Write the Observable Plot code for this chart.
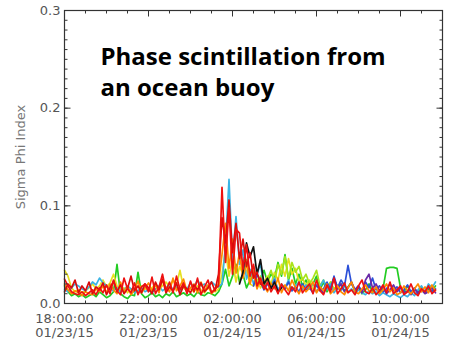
<!DOCTYPE html>
<html><head><meta charset="utf-8">
<script src="https://cdn.jsdelivr.net/npm/d3@7"></script>
<script src="https://cdn.jsdelivr.net/npm/@observablehq/plot@0.6"></script>
<style>body{margin:0;background:#fff}#chart{width:449px;height:339px}</style>
</head><body><div id="chart"></div>
<script>
// sampling grid: every 10 minutes from 18:00 UT 01/23/15
const startTime = "2015-01-23T18:00:00Z";
const stepMinutes = 10;

const red = [.025,.018,.012,.010,.009,.012,.008,.011,.014,.009,.016,.011,
.019,.010,.024,.013,.009,.026,.015,.011,.021,.009,.017,.020,
.012,.027,.010,.017,.030,.013,.022,.011,.028,.014,.021,.010,
.023,.012,.026,.009,.017,.024,.011,.015,.018,
.119,.042,.098,.030,.076,.072,.035,.060,.028,.040,.018,.026,
.015,.022,.012,.018,.010,.020,.014,.009,.017,.012,.022,.011,
.016,.020,.010,.024,.013,.009,.019,.012,.026,.010,.015,.021,
.011,.014,.009,.018,.024,.012,.010,.016,.009,.013,.019,.011,
.022,.010,.014,.018,.009,.012,.020,.011,.008,.015,.012,.018,
.010,.014];
const darkRed = [.012,.020,.016,.024,.011,.018,.013,.022,.010,.017,.014,.021,
.009,.016,.023,.012,.019,.010,.015,.028,.013,.018,.011,.020,
.016,.010,.022,.014,.025,.011,.017,.013,.021,.009,.018,.015,
.011,.019,.014,.021,.012,.016,.022,.013,.030,
.088,.062,.106,.052,.082,.046,.066,.038,.052,.026,.032,.020,
.018,.014];
const orange = [.020,.014,.010,.013,.011,.008,.012,.010,.009,.015,.012,.018,
.011,.020,.014,.010,.022,.012,.018,.009,.014,.023,.011,.016,
.021,.013,.019,.011,.024,.016,.012,.026,.013,.018,.025,.012,
.016,.020,.011,.022,.013,.019,.010,.014,.020,
.050,.082,.036,.066,.031,.052,.026,.041,.020,.032,.015,.024,
.018,.012,.021,.015,.026,.011,.019,.013,.024,.016,.010,.018,
.012,.016,.022,.011,.017,.013,.020,.010,.014,.018,.012,.009,
.016,.022,.012,.010,.015,.019,.013,.011,.017,.010,.014,.020,
.012,.016,.009,.011,.018,.013,.010,.015,.020,.012,.017,.011,
.019,.013];
const yellow = [.034,.028,.016,.012,.014,.011,.013,.016,.020,.015,.018,.024,
.017,.021,.030,.018,.013,.016,.011,.015,.014,.012,.018,.015,
.013,.016,.020,.015,.018,.022,.017,.024,.019,.034,.016,.013,
.015,.012,.018,.014,.011,.016,.013,.012,.015,.030,.055,.028,
.045,.022,.038,.030,.034,.020,.018,.025,.016,.022,.028,.020,
.032,.024,.040,.028,.046,.030,.036,.022,.026,.018,.024,.015,
.018];
const yellowGreen = [.022,.030,.045,.024,.036,.020,.028,.018,.025,.034,.022,.040,
.030,.048,.026,.042,.032,.038,.024,.030,.020,.026,.034,.018,.024,.016,.022,.015,.019,.014,.018];
const green = [.018,.012,.008,.010,.007,.009,.006,.008,.010,.007,.012,.009,
.006,.008,.012,.040,.010,.007,.005,.009,.008,.032,.010,.006,
.008,.011,.007,.009,.006,.010,.008,.012,.007,.009,.011,.008,
.010,.007,.012,.009,.008,.011,.010,.008,.012,
.020,.035,.018,.028,.040,.022,.030,.016,.024,.038,.020,.026,
.034,.022,.030,.026,.042,.028,.050,.024,.036,.020,.030,.018,
.024,.016,.020,.028,.014,.022,.012,.018,.026,.015,.020,.013,
.017,.022,.012,.016,.010,.014,.020,.012,.016,.011,.015,.036,
.037,.037,.036,.016,.012,.018,.010,.014,.012,.016,.011,.015,
.012,.018];
const cyan = [.014,.012,.016,.020,.018,.015,.013,.017,.022,.019,.026,.021,
.018,.015,.013,.016,.012,.014,.018,.015,.011,.013,.016,.012,
.014,.011,.015,.018,.013,.016,.020,.014,.017,.012,.019,.015,
.021,.017,.024,.018,.020,.016,.022,.019,.017,
.020,.060,.127,.045,.089,.040,.055,.025,.035,.020,.030,.041,
.015,.022,.018,.026,.014,.020,.016,.024,.013,.018,.022,.014,
.019,.015,.021,.012,.017,.024,.014,.020,.011,.016,.013,.018,
.012,.015,.010,.014,.011,.009,.013,.010,.012,.008,.011,.009,
.007,.010,.008,.006,.009,.007,.011,.008,.014,.018,.012,.020,
.016,.022];
const blue = [.018,.030,.022,.014,.020,.016,.024,.012,.018,.015,.022,.013,
.017,.012,.020,.014,.016,.011,.019,.013,.015,.022,.014,.028,
.016,.024,.018,.039,.020,.014,.018,.012,.022,.016,.026,.014,
.018,.012,.015,.020,.013,.017,.011,.014,.019,.012,.016,.010,
.014,.011,.017,.012,.015];
const purple = [.012,.016,.010,.018,.014,.026,.015,.020,.012,.016,.022,.014,.018,.011,.024,.030,.016,.020,
.013,.017,.010,.014,.019,.012,.016,.011,.013,.009,.015,.011,.014,.010,.012,.016,.011];
const black = [.020,.032,.062,.048,.058,.030,.045,.020,.026,.015,.022,.012,.016];

const seriesNames = ["green","yellow","yellowGreen","cyan","blue","purple","orange","black","darkRed","red"];
const seriesColors = ["#22cc22","#e6e020","#a8e41a","#3ab4e4","#2a4fd8","#6a2aa8","#ff8a00","#111111","#d80c0c","#ee1010"];
const seriesStart = [0,0,50,0,54,72,0,50,0,0];
const seriesValues = [green,yellow,yellowGreen,cyan,blue,purple,orange,black,darkRed,red];

const xMajorTicks = ["2015-01-23T18:00:00Z","2015-01-23T22:00:00Z","2015-01-24T02:00:00Z","2015-01-24T06:00:00Z","2015-01-24T10:00:00Z"];
const xTickLabels = ["18:00:00\n01/23/15","22:00:00\n01/23/15","02:00:00\n01/24/15","06:00:00\n01/24/15","10:00:00\n01/24/15"];
const yMajorTicks = [0, 0.1, 0.2, 0.3];
const yTickLabels = ["0.0","0.1","0.2","0.3"];
const xDomain = ["2015-01-23T18:00:00Z","2015-01-24T12:00:00Z"];
const yDomain = [0, 0.3];

const t0 = new Date(startTime);
const rows = seriesNames.flatMap((name, k) =>
  seriesValues[k].map((v, j) => ({series: name, t: new Date(+t0 + (seriesStart[k] + j) * stepMinutes * 60000), v})));

const xMaj = xMajorTicks.map(d => new Date(d));
const xLab = new Map(xMaj.map((d, i) => [+d, xTickLabels[i]]));
const yLab = new Map(yMajorTicks.map((d, i) => [d, yTickLabels[i]]));
const xDom = xDomain.map(d => new Date(d));
const xMinor = d3.utcHour.range(xDom[0], d3.utcHour.offset(xDom[1], 1));
const yMinor = d3.range(0, 31).map(i => i / 100);

const W = 449, H = 339, mL = 64, mR = 7, mT = 10, mB = 36;
const fw = W - mL - mR, fh = H - mT - mB;
// tick lengths in pixels, converted to data units for the tick links
const yPerPx = (yDomain[1] - yDomain[0]) / fh;
const msPerPx = (xDom[1] - xDom[0]) / fw;
const tickStroke = "#333";
function xTicks(data, len) {
  const l = len * yPerPx;
  return [
    Plot.link(data, {x1: d => d, x2: d => d, y1: yDomain[0], y2: yDomain[0] + l, stroke: tickStroke}),
    Plot.link(data, {x1: d => d, x2: d => d, y1: yDomain[1] - l, y2: yDomain[1], stroke: tickStroke})
  ];
}
function yTicks(data, len) {
  const l = len * msPerPx;
  return [
    Plot.link(data, {y1: d => d, y2: d => d, x1: xDom[0], x2: new Date(+xDom[0] + l), stroke: tickStroke}),
    Plot.link(data, {y1: d => d, y2: d => d, x1: new Date(+xDom[1] - l), x2: xDom[1], stroke: tickStroke})
  ];
}
const plot = Plot.plot({
  width: W, height: H,
  marginLeft: mL, marginRight: mR, marginTop: mT, marginBottom: mB,
  style: {fontFamily: "DejaVu Sans", fontSize: "13px", color: "#555", background: "#fff"},
  x: {type: "utc", domain: xDom, label: null},
  y: {domain: yDomain, label: null},
  color: {domain: seriesNames, range: seriesColors},
  marks: [
    Plot.lineY(rows, {x: "t", y: "v", z: "series", stroke: "series", strokeWidth: 1.7}),
    ...xTicks(xMinor, 3), ...xTicks(xMaj, 6),
    ...yTicks(yMinor, 3), ...yTicks(yMajorTicks, 6),
    Plot.axisX(xMaj, {anchor: "bottom", tickSize: 0, tickPadding: 9, tickFormat: d => xLab.get(+d), lineHeight: 1.1, fill: "#555"}),
    Plot.axisY(yMajorTicks, {anchor: "left", tickSize: 0, tickPadding: 4, tickFormat: d => yLab.get(d), fill: "#555"}),
    Plot.frame({stroke: "#333", strokeWidth: 1.2}),
    Plot.text(["Sigma Phi Index"], {frameAnchor: "left", textAnchor: "middle", dx: -44, rotate: -90, fontSize: 13, fill: "#777"}),
    Plot.text(["Phase scintillation from\nan ocean buoy"], {frameAnchor: "top-left", textAnchor: "start", lineAnchor: "top", dx: 36, dy: 33, lineHeight: 1.29, fontSize: 24, fontWeight: "bold", fontFamily: "Open Sans", fill: "#000"})
  ]
});
document.getElementById("chart").append(plot);
</script></body></html>
